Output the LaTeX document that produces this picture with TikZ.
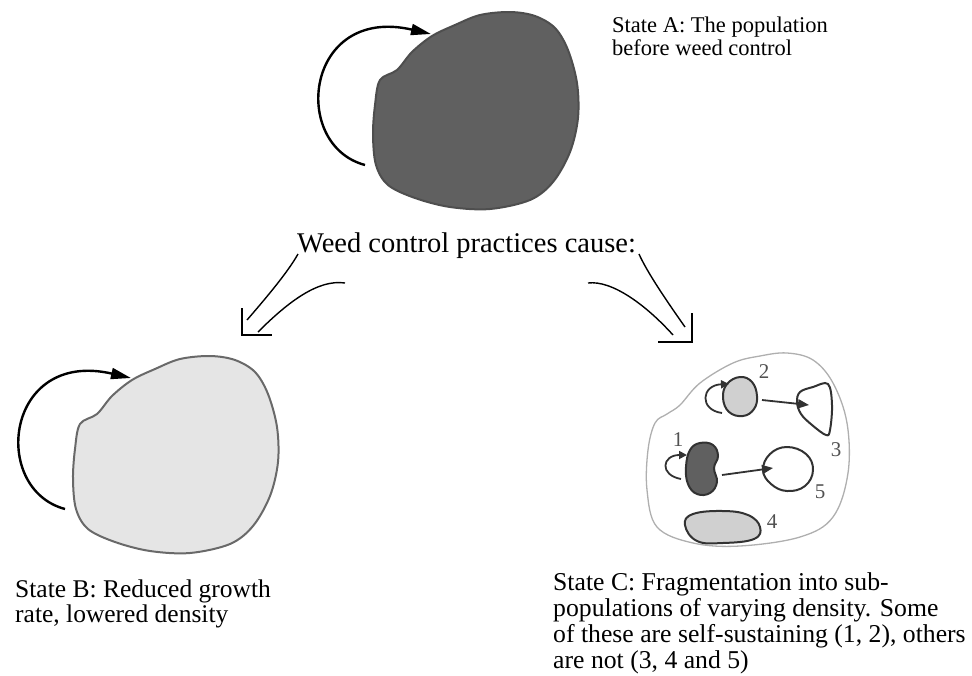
\documentclass[tikz,border=0pt]{standalone}
\usepackage{fontspec}
\setmainfont{Liberation Serif}
\usetikzlibrary{arrows.meta}

\definecolor{densefill}{RGB}{96,96,96}
\definecolor{denseedge}{RGB}{78,78,78}
\definecolor{thinfill}{RGB}{229,229,229}
\definecolor{thinedge}{RGB}{105,105,105}
\definecolor{subfill}{RGB}{208,208,208}
\definecolor{subedge}{RGB}{50,50,50}
\definecolor{rimedge}{RGB}{175,175,175}

% outline of a whole population, drawn at A and shifted for B
\newcommand{\popoutline}{plot[smooth cycle, tension=0.55] coordinates {
  (380,80) (397,70) (412,52) (432,36) (455,25) (480,15) (510,12) (535,16)
  (555,28) (568,50) (577,83) (578,118) (570,152) (553,182) (530,200)
  (490,209) (450,207) (415,198) (388,185) (376,165) (373,135) (375,105)}}

\begin{document}
\begin{tikzpicture}[x=1pt, y=-1pt,
  every node/.style={inner sep=0pt},
  statetext/.style={align=left, anchor=base west},
  num/.style={text=subedge!85!white, font=\fontsize{21}{21}\selectfont},
  pop/.style={line width=2pt},
  sub/.style={line width=2pt, draw=subedge},
  self/.style={-{Triangle[length=20pt, width=11pt]}, line width=2.4pt},
  sself/.style={-{Triangle[length=8pt, width=8pt]}, line width=1.8pt, draw=subedge},
  spread/.style={-{Triangle[length=11pt, width=9pt]}, line width=1.8pt, draw=subedge},
  hollow/.style={line width=1.4pt}]
\useasboundingbox (0,0) rectangle (972,675);

% state A
\draw[pop, fill=densefill, draw=denseedge] \popoutline;
\coordinate (a-out) at (365,165);
\coordinate (a-in) at (431,34);
\draw[self] (a-out) .. controls (290,145) and (305,5) .. (a-in);
\node[statetext, font=\fontsize{22.5}{23}\selectfont] (stA) at (612,55)
  {State A: The population\\before weed control};

% the cause and the two hollow arrows
\node[statetext, font=\fontsize{28.5}{28}\selectfont] (cause) at (297,252)
  {Weed control practices cause:};
\coordinate (l-outer) at (298,254);
\coordinate (l-inner) at (345,283);
\coordinate (l-end1) at (247,320);
\coordinate (l-end2) at (258,332);
\coordinate (l-top) at (242,308);
\coordinate (l-tip) at (242,335);
\coordinate (l-foot) at (272,335);
\draw[hollow] (l-outer) .. controls (288,272) and (266,298) .. (l-end1);
\draw[hollow] (l-inner) .. controls (318,279) and (288,302) .. (l-end2);
\draw[hollow] (l-top) -- (l-tip) -- (l-foot);
\coordinate (r-outer) at (639,254);
\coordinate (r-inner) at (588,283);
\coordinate (r-end1) at (685,327);
\coordinate (r-end2) at (673,335);
\coordinate (r-top) at (692,313);
\coordinate (r-tip) at (692,342);
\coordinate (r-foot) at (658,342);
\draw[hollow] (r-outer) .. controls (647,272) and (666,300) .. (r-end1);
\draw[hollow] (r-inner) .. controls (612,280) and (646,305) .. (r-end2);
\draw[hollow] (r-top) -- (r-tip) -- (r-foot);

% state B
\begin{scope}[shift={(-300,344)}]
\draw[pop, fill=thinfill, draw=thinedge] \popoutline;
\coordinate (b-out) at (365,165);
\coordinate (b-in) at (431,34);
\draw[self] (b-out) .. controls (290,145) and (305,5) .. (b-in);
\end{scope}
\node[statetext, font=\fontsize{25.5}{25}\selectfont] (stB) at (15,622)
  {State B: Reduced growth\\rate, lowered density};

% state C
\draw[line width=1.3pt, draw=rimedge] plot[smooth cycle, tension=0.6] coordinates {
  (787,353) (760,356) (733,363) (700,383) (680,405) (667,414) (655,423)
  (648,450) (647,490) (657,527) (693,543) (740,546) (800,537) (833,517)
  (848,473) (847,423) (833,383) (813,360)};
\draw[sub, fill=subfill] plot[smooth cycle, tension=0.7] coordinates {
  (740,377) (752,382) (757,396) (754,409) (743,416) (729,412) (723,398) (727,384)};
\draw[sub, fill=white] plot[smooth cycle, tension=0.6] coordinates {
  (800,392) (813,387) (828,384) (832,405) (830,430) (826,435) (812,425) (801,414) (797,402)};
\draw[sub, fill=densefill] plot[smooth cycle, tension=0.7] coordinates {
  (690,450) (700,443) (713,445) (718,456) (714,468) (717,482) (710,493) (697,494) (688,484) (686,467)};
\draw[sub, fill=white] plot[smooth cycle, tension=0.7] coordinates {
  (763,470) (770,454) (787,447) (806,454) (813,470) (805,486) (787,491) (771,484)};
\draw[sub, fill=subfill] plot[smooth cycle, tension=0.7] coordinates {
  (685,525) (693,514) (723,511) (748,515) (760,527) (754,539) (723,543) (697,541)};
\coordinate (s2-out) at (722,413);
\coordinate (s2-in) at (729,384);
\coordinate (s1-out) at (681,479);
\coordinate (s1-in) at (687,455);
\draw[sself] (s2-out) .. controls (699,410) and (701,385) .. (s2-in);
\draw[sself] (s1-out) .. controls (659,475) and (662,455) .. (s1-in);
\coordinate (s2-from) at (762,400);
\coordinate (s3-to) at (809,405);
\coordinate (s1-from) at (722,475);
\coordinate (s5-to) at (773,468);
\draw[spread] (s2-from) -- (s3-to);
\draw[spread] (s1-from) -- (s5-to);
\node[num] (n1) at (678,440) {1};
\node[num] (n2) at (764,372) {2};
\node[num] (n3) at (836,450) {3};
\node[num] (n4) at (772,522) {4};
\node[num] (n5) at (820,492) {5};
\node[statetext, font=\fontsize{25.7}{26}\selectfont] (stC) at (553,668)
  {State C: Fragmentation into sub-\\populations of varying density. Some\\of these are self-sustaining (1, 2), others\\are not (3, 4 and 5)};
\end{tikzpicture}
\end{document}
